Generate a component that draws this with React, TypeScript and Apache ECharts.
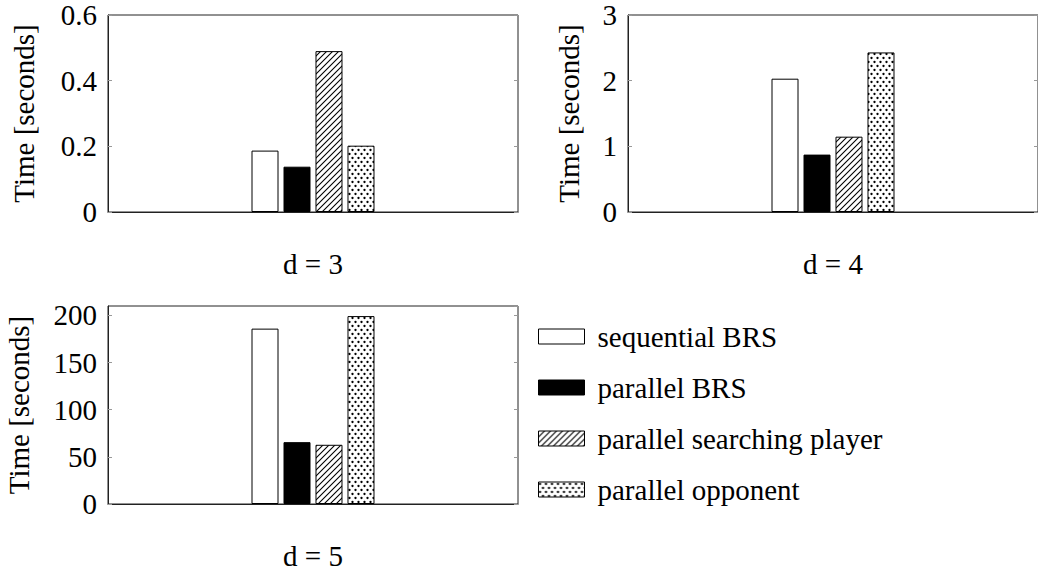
import React, { useEffect, useRef } from "react";
import * as echarts from "echarts";

const categories = ["d = 3", "d = 4", "d = 5"];
const seriesNames = [
  "sequential BRS",
  "parallel BRS",
  "parallel searching player",
  "parallel opponent",
];
const sequentialBRS = [0.187, 2.03, 186];
const parallelBRS = [0.138, 0.874, 65.6];
const parallelSearching = [0.49, 1.147, 62.8];
const parallelOpponent = [0.202, 2.43, 199.3];
const yMax = [0.6, 3, 210];
const yInterval = [0.2, 1, 50];

const FONT = "Liberation Serif";
const FS = 29;

const hatchSvg =
  "<svg xmlns='http://www.w3.org/2000/svg' width='6' height='6'>" +
  "<rect width='6' height='6' fill='white'/>" +
  "<path d='M0,6 L6,0 M-1,1 L1,-1 M5,7 L7,5' stroke='black' stroke-width='1.1'/></svg>";
const dotSvg =
  "<svg xmlns='http://www.w3.org/2000/svg' width='6' height='8'>" +
  "<rect width='6' height='8' fill='white'/>" +
  "<circle cx='1.5' cy='2' r='1.15' fill='black'/>" +
  "<circle cx='4.5' cy='6' r='1.15' fill='black'/></svg>";
const toUrl = (s: string) => "data:image/svg+xml;charset=utf-8," + encodeURIComponent(s);

const fills: any[] = [
  "#ffffff",
  "#000000",
  { image: toUrl(hatchSvg), repeat: "repeat", imageWidth: 6, imageHeight: 6 },
  { image: toUrl(dotSvg), repeat: "repeat", imageWidth: 6, imageHeight: 8 },
];
const values = [sequentialBRS, parallelBRS, parallelSearching, parallelOpponent];

const grids = [
  { left: 108, top: 15, width: 410, height: 197 },
  { left: 628, top: 15, width: 411, height: 197 },
  { left: 108, top: 306, width: 410, height: 198 },
];
const nameGaps = [70, 45, 75];

export default function App() {
  const ref = useRef<HTMLDivElement>(null);
  useEffect(() => {
    if (!ref.current) return;
    const chart = echarts.init(ref.current, undefined, { renderer: "svg" });
    const xAxis: any[] = [];
    const yAxis: any[] = [];
    const series: any[] = [];
    grids.forEach((g, i) => {
      xAxis.push({
        type: "category",
        gridIndex: i,
        data: [categories[i]],
        axisLine: { show: true, lineStyle: { color: "#222", width: 1 } },
        axisTick: { show: false },
        axisLabel: { margin: 37, fontSize: FS, color: "#000", fontFamily: FONT },
      });
      const yBase = {
        type: "value",
        gridIndex: i,
        min: 0,
        max: yMax[i],
        interval: yInterval[i],
        splitLine: { show: false },
        axisTick: { show: true, inside: true, length: 4, lineStyle: { color: "#999" } },
      };
      yAxis.push({
        ...yBase,
        position: "left",
        name: "Time [seconds]",
        nameLocation: "middle",
        nameGap: nameGaps[i],
        nameTextStyle: { fontSize: FS, color: "#000", fontFamily: FONT },
        axisLine: { show: true, lineStyle: { color: "#222", width: 1 } },
        axisLabel: {
          margin: 11,
          fontSize: FS,
          color: "#000",
          fontFamily: FONT,
          showMaxLabel: i === 2 ? false : true,
        },
      });
      yAxis.push({
        ...yBase,
        position: "right",
        axisLine: { show: false },
        axisLabel: { show: false },
      });
      values.forEach((vals, s) => {
        series.push({
          type: "bar",
          name: seriesNames[s],
          xAxisIndex: i,
          yAxisIndex: i * 2,
          data: [vals[i]],
          barWidth: 27,
          barGap: "18.5%",
          itemStyle: { color: fills[s], borderColor: "#000", borderWidth: 1 },
        });
      });
    });
    chart.setOption({
      animation: false,
      textStyle: { fontFamily: FONT },
      grid: grids.map((g) => ({ ...g, show: true, borderColor: "#222", borderWidth: 1, backgroundColor: "transparent" })),
      xAxis,
      yAxis,
      series,
      legend: {
        data: seriesNames,
        orient: "vertical",
        left: 538,
        top: 322,
        itemWidth: 46,
        itemHeight: 15,
        itemGap: 22,
        icon: "rect",
        padding: 0,
        selectedMode: false,
        itemStyle: { borderColor: "#000", borderWidth: 1 },
        textStyle: { fontSize: FS, color: "#000", fontFamily: FONT, padding: [0, 0, 0, 8] },
      },
    });
    return () => chart.dispose();
  }, []);
  return (
    <div
      ref={ref}
      style={{ position: "fixed", left: 0, top: 0, width: 1038, height: 574, background: "#fff" }}
    />
  );
}
